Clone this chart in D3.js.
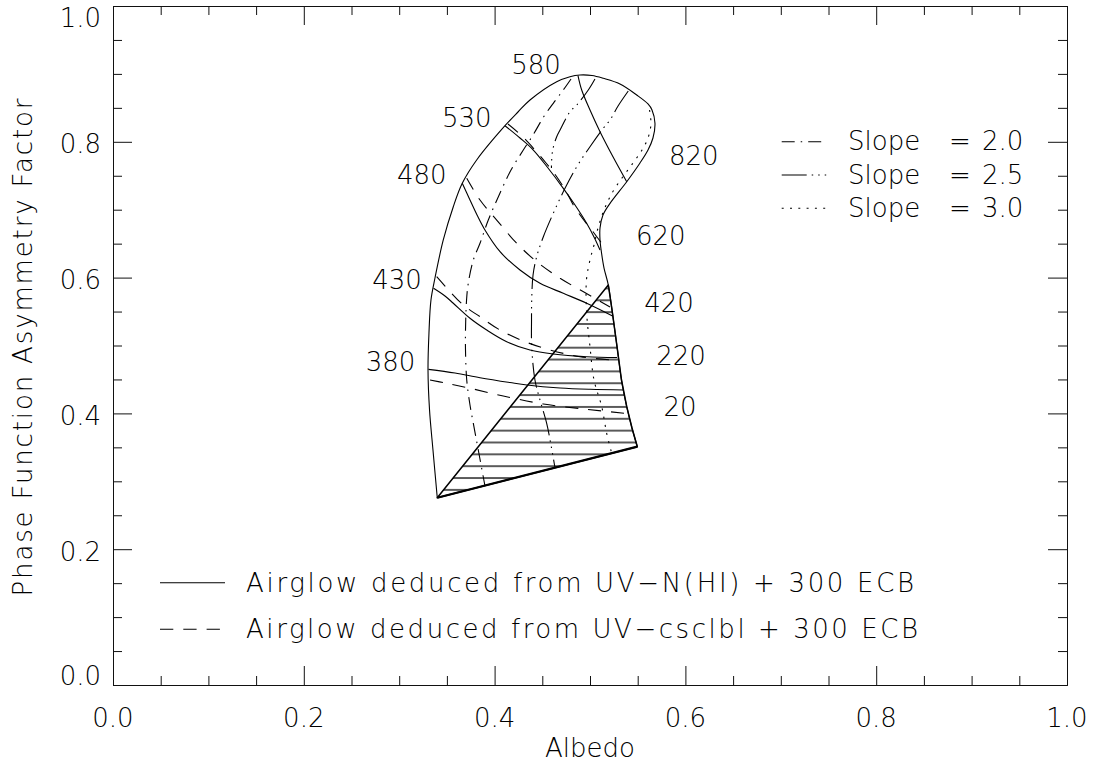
<!DOCTYPE html>
<html><head><meta charset="utf-8">
<script src="https://cdn.jsdelivr.net/npm/d3@7"></script>
<style>
body{margin:0;background:#fff}
svg text{font-family:"DejaVu Sans",sans-serif;font-weight:200;fill:#000}
</style></head>
<body><svg id="c" width="1094" height="766"></svg>
<script>
// ---------- data ----------
const xMajor=[0,0.2,0.4,0.6,0.8,1.0];
const xTickLabels=["0.0","0.2","0.4","0.6","0.8","1.0"];
const yMajor=[0,0.2,0.4,0.6,0.8,1.0];
const yTickLabels=["0.0","0.2","0.4","0.6","0.8","1.0"];

const outerBoundary=[[0.3399,0.2758],[0.3354,0.3461],[0.3318,0.4050],[0.3302,0.4639],[0.3312,0.5184],[0.3333,0.5670],[0.3375,0.5994],[0.3462,0.6554],[0.3567,0.7044],[0.3661,0.7389],[0.3812,0.7732],[0.4109,0.8237],[0.4245,0.8439],[0.4371,0.8616],[0.4651,0.8885],[0.4790,0.8959],[0.4895,0.8984],[0.5021,0.8976],[0.5139,0.8935],[0.5314,0.8851],[0.5490,0.8689],[0.5608,0.8557],[0.5650,0.8468],[0.5681,0.8272],[0.5660,0.8056],[0.5608,0.7879],[0.5524,0.7688],[0.5385,0.7412],[0.5210,0.7094],[0.5136,0.6922],[0.5105,0.6731],[0.5105,0.6554],[0.5121,0.6362],[0.5147,0.6141],[0.5192,0.5891],[0.5231,0.5523],[0.5288,0.4934],[0.5330,0.4492],[0.5385,0.4099],[0.5440,0.3785],[0.5496,0.3510]];
const bottomEdge=[[0.3399,0.2758],[0.5496,0.3510]];
const hatchApex=[0.5192,0.5891];

// airglow curves, UV-N(HI) (solid)
const solid380=[[0.3307,0.4649],[0.3585,0.4595],[0.3847,0.4526],[0.4161,0.4455],[0.4340,0.4418],[0.4686,0.4374],[0.5000,0.4355],[0.5356,0.4345]];
const solid430=[[0.3360,0.5842],[0.3480,0.5729],[0.3567,0.5622],[0.3742,0.5401],[0.3917,0.5228],[0.4127,0.5056],[0.4371,0.4934],[0.4615,0.4875],[0.4965,0.4835],[0.5283,0.4823]];
const solid480=[[0.3661,0.7389],[0.3742,0.7143],[0.3816,0.6922],[0.3899,0.6701],[0.4057,0.6381],[0.4266,0.6112],[0.4476,0.5916],[0.4720,0.5769],[0.4965,0.5622],[0.5236,0.5435]];
const solid530=[[0.4109,0.8237],[0.4266,0.8056],[0.4406,0.7879],[0.4560,0.7614],[0.4720,0.7315],[0.4843,0.7069],[0.4965,0.6800],[0.5042,0.6598],[0.5105,0.6406]];
const solid580=[[0.4874,0.8976],[0.4913,0.8763],[0.5000,0.8468],[0.5105,0.8149],[0.5231,0.7806],[0.5385,0.7412]];
// airglow curves, UV-csclbl (dashed)
const dash380=[[0.3323,0.4492],[0.3480,0.4448],[0.3742,0.4370],[0.4091,0.4256],[0.4511,0.4138],[0.4965,0.4060],[0.5367,0.4001]];
const dash430=[[0.3393,0.6013],[0.3480,0.5876],[0.3672,0.5596],[0.3847,0.5424],[0.4057,0.5228],[0.4301,0.5066],[0.4581,0.4934],[0.4895,0.4835],[0.5231,0.4786]];
const dash480=[[0.3708,0.7462],[0.3847,0.7143],[0.4022,0.6848],[0.4232,0.6505],[0.4441,0.6234],[0.4686,0.5990],[0.4927,0.5795],[0.5210,0.5567]];
const dash530=[[0.4140,0.8262],[0.4287,0.8085],[0.4423,0.7879],[0.4539,0.7688],[0.4651,0.7486],[0.4759,0.7246],[0.4825,0.7069],[0.4948,0.6823],[0.5018,0.6701],[0.5136,0.6480]];
// slope lines
const slope20=[[0.4801,0.8925],[0.4720,0.8763],[0.4615,0.8567],[0.4513,0.8365],[0.4403,0.8100],[0.4301,0.7879],[0.4172,0.7585],[0.4057,0.7246],[0.3934,0.6848],[0.3847,0.6505],[0.3777,0.6259],[0.3724,0.5916],[0.3706,0.5670],[0.3695,0.5228],[0.3695,0.4934],[0.3708,0.4492],[0.3742,0.4124],[0.3777,0.3854],[0.3829,0.3461],[0.3899,0.2931]];
const slope20b=[[0.5052,0.8925],[0.4982,0.8763],[0.4861,0.8542],[0.4790,0.8443],[0.4686,0.8174],[0.4651,0.8075],[0.4609,0.7879],[0.4596,0.7658],[0.4596,0.7614]];
const slope25=[[0.5401,0.8748],[0.5294,0.8527],[0.5210,0.8321],[0.5139,0.8199],[0.5000,0.7928],[0.4861,0.7633],[0.4738,0.7315],[0.4615,0.6947],[0.4511,0.6602],[0.4441,0.6308],[0.4403,0.6038],[0.4389,0.5670],[0.4387,0.5376],[0.4389,0.4982],[0.4423,0.4492],[0.4476,0.4197],[0.4546,0.3854],[0.4591,0.3535],[0.4633,0.3200]];
const slope30=[[0.5624,0.8468],[0.5639,0.8262],[0.5608,0.8056],[0.5545,0.7879],[0.5451,0.7688],[0.5335,0.7467],[0.5231,0.7246],[0.5147,0.6996],[0.5084,0.6731],[0.5042,0.6480],[0.5000,0.6259],[0.4963,0.5965],[0.4965,0.5479],[0.5000,0.4982],[0.5042,0.4492],[0.5123,0.4099],[0.5175,0.3707],[0.5228,0.3412]];

const curveLabels=["580","530","480","430","380","820","620","420","220","20"];
const curveLabelAt=[[0.4434,0.8999],[0.3708,0.8222],[0.3236,0.7378],[0.2977,0.5828],[0.2909,0.4629],[0.6087,0.7658],[0.5742,0.6480],[0.5828,0.5498],[0.5954,0.4713],[0.5943,0.3962]];

const slopeLegend=["Slope","Slope","Slope"];
const slopeValues=["2.0","2.5","3.0"];
const airglowLegend=["Airglow deduced from UV\u2212N(HI) + 300 ECB","Airglow deduced from UV\u2212csclbl + 300 ECB"];
const xTitle="Albedo";
const yTitle="Phase Function Asymmetry Factor";

// ---------- chart ----------
const svg=d3.select("#c");
const L=113,R=1067,T=6,B=685;
const x=d3.scaleLinear().domain([0,1]).range([L,R]);
const y=d3.scaleLinear().domain([0,1]).range([B,T]);
const minorX=x.ticks(20).filter(v=>!xMajor.some(m=>Math.abs(m-v)<1e-9));
const minorY=y.ticks(20).filter(v=>!yMajor.some(m=>Math.abs(m-v)<1e-9));

function axis(gen,scale,vals,size,tr){
  svg.append("g").attr("transform",tr).attr("color","#111")
    .call(gen(scale).tickValues(vals).tickSize(size).tickSizeOuter(0).tickFormat(""));
}
axis(d3.axisBottom,x,xMajor,-19,`translate(0,${B})`);
axis(d3.axisBottom,x,minorX,-9,`translate(0,${B})`);
axis(d3.axisTop,x,xMajor,-19,`translate(0,${T})`);
axis(d3.axisTop,x,minorX,-9,`translate(0,${T})`);
axis(d3.axisLeft,y,yMajor,-19,`translate(${L},0)`);
axis(d3.axisLeft,y,minorY,-9,`translate(${L},0)`);
axis(d3.axisRight,y,yMajor,-19,`translate(${R},0)`);
axis(d3.axisRight,y,minorY,-9,`translate(${R},0)`);

const FS=26;
svg.append("g").selectAll("text").data(xMajor).join("text")
  .attr("x",d=>x(d)).attr("y",727).attr("text-anchor","middle").attr("font-size",FS)
  .text((d,i)=>xTickLabels[i]);
svg.append("g").selectAll("text").data(yMajor).join("text")
  .attr("x",101).attr("y",d=>Math.min(B,Math.max(T+21,y(d)+11.5))).attr("text-anchor","end").attr("font-size",FS)
  .text((d,i)=>yTickLabels[i]);
svg.append("text").attr("x",590).attr("y",757).attr("text-anchor","middle").attr("font-size",FS).text(xTitle);
svg.append("text").attr("transform","translate(32,347.5) rotate(-90)").attr("text-anchor","middle")
  .attr("font-size",FS).attr("textLength",498).attr("lengthAdjust","spacing").text(yTitle);

const line=d3.line().x(d=>x(d[0])).y(d=>y(d[1])).curve(d3.curveCatmullRom.alpha(0.5));
const lin=d3.line().x(d=>x(d[0])).y(d=>y(d[1]));

// hatch pattern
const defs=svg.append("defs");
const pat=defs.append("pattern").attr("id","hatch").attr("patternUnits","userSpaceOnUse")
  .attr("x",0).attr("y",288.5-5).attr("width",40).attr("height",11.85);
pat.append("line").attr("x1",0).attr("x2",40).attr("y1",5).attr("y2",5).attr("stroke","#222").attr("stroke-width",1.4);

const apexIdx=outerBoundary.findIndex(p=>p[0]===hatchApex[0]&&p[1]===hatchApex[1]);
const hatchPoly=[bottomEdge[0]].concat(outerBoundary.slice(apexIdx));
svg.append("path").attr("d",lin(hatchPoly)+"Z").attr("fill","url(#hatch)").attr("stroke","#000").attr("stroke-width",1.5).attr("stroke-linejoin","round");

const g=svg.append("g").attr("fill","none").attr("stroke","#000");
function draw(data,dash,w){g.append("path").attr("d",line(data)).attr("stroke-width",w||1.1).attr("stroke-dasharray",dash||null);}
const DASH="13,10", DD20="13,6,1.5,6", DD25="25,5,1.5,5,1.5,5,1.5,5", DOT="2,6.3";
draw(outerBoundary);
[solid380,solid430,solid480,solid530,solid580].forEach(c=>draw(c));
[dash380,dash430,dash480,dash530].forEach(c=>draw(c,DASH));
draw(slope20,DD20);
draw(slope20b,DD25);
draw(slope25,DD25);
draw(slope30,DOT);
g.append("path").attr("d",lin(bottomEdge)).attr("stroke-width",2.2);

svg.append("g").selectAll("text").data(curveLabels).join("text")
  .attr("x",(d,i)=>x(curveLabelAt[i][0])).attr("y",(d,i)=>y(curveLabelAt[i][1]))
  .attr("text-anchor","middle").attr("font-size",FS).text(d=>d);

// slope legend
const slopeDash=[DD20,DD25,DOT];
slopeValues.forEach((v,i)=>{
  const ly=141.7+i*33.3;
  svg.append("line").attr("x1",781.7).attr("x2",826.7).attr("y1",ly).attr("y2",ly)
    .attr("stroke","#000").attr("stroke-width",1.1).attr("stroke-dasharray",slopeDash[i]);
  svg.append("text").attr("x",848).attr("y",ly+8.5).attr("font-size",FS).text(slopeLegend[i]);
  svg.append("text").attr("x",960).attr("y",ly+8.5).attr("text-anchor","middle").attr("font-size",FS).text("=");
  svg.append("text").attr("x",982).attr("y",ly+8.5).attr("font-size",FS).text(v);
});
// airglow legend
const agDash=[null,"13.3,10"], agLen=[65,60], agW=[668,672];
airglowLegend.forEach((t,i)=>{
  const ly=582.7+i*46.6;
  svg.append("line").attr("x1",160).attr("x2",160+agLen[i]).attr("y1",ly).attr("y2",ly)
    .attr("stroke","#000").attr("stroke-width",1.1).attr("stroke-dasharray",agDash[i]);
  svg.append("text").attr("x",246).attr("y",ly+9).attr("font-size",FS)
    .attr("textLength",agW[i]).attr("lengthAdjust","spacing").text(t);
});
</script></body></html>
